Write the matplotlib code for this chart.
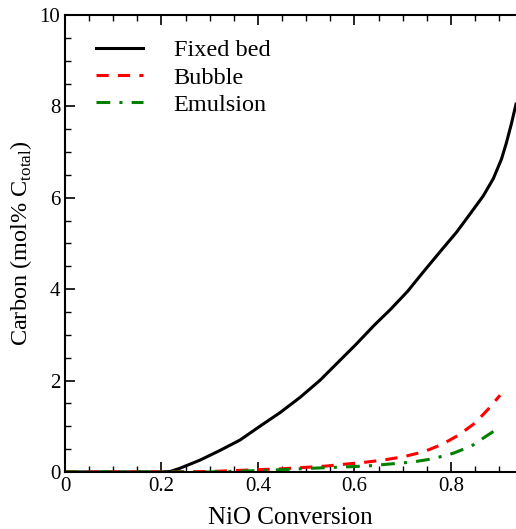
import numpy as np
import matplotlib.pyplot as plt
from matplotlib.ticker import MultipleLocator

plt.rcParams['font.family'] = ['Liberation Serif', 'DejaVu Serif']
plt.rcParams['mathtext.fontset'] = 'custom'
plt.rcParams['mathtext.rm'] = 'Liberation Serif'

# fixed bed
x_fixed = [0.0, 0.1, 0.2, 0.218, 0.238, 0.28, 0.321, 0.363, 0.404, 0.446, 0.487,
           0.528, 0.566, 0.604, 0.64, 0.674, 0.71, 0.743, 0.78, 0.812, 0.84,
           0.867, 0.888, 0.905, 0.915, 0.925, 0.935]
y_fixed = [0.0, 0.0, 0.0, 0.01, 0.08, 0.26, 0.47, 0.70, 1.0, 1.30, 1.63,
           2.0, 2.4, 2.8, 3.2, 3.55, 3.95, 4.38, 4.85, 5.25, 5.65,
           6.04, 6.42, 6.85, 7.2, 7.6, 8.05]
# bubble
x_bub = [0.0, 0.2, 0.3, 0.35, 0.4, 0.45, 0.497, 0.542, 0.58, 0.62, 0.659, 0.70,
         0.743, 0.781, 0.815, 0.85, 0.877, 0.902]
y_bub = [0.0, 0.0, 0.01, 0.03, 0.05, 0.07, 0.10, 0.13, 0.17, 0.21, 0.26, 0.33,
         0.44, 0.60, 0.80, 1.07, 1.37, 1.68]
# emulsion
x_emu = [0.0, 0.2, 0.3, 0.4, 0.45, 0.508, 0.556, 0.625, 0.68, 0.722, 0.763,
         0.805, 0.843, 0.877, 0.89]
y_emu = [0.0, 0.0, 0.0, 0.03, 0.05, 0.08, 0.10, 0.13, 0.18, 0.22, 0.29,
         0.41, 0.57, 0.81, 0.90]

fig = plt.figure(figsize=(5.16, 5.29), dpi=100)
ax = fig.add_axes([0.126, 0.1078, 0.874, 0.8638])

ax.plot(x_fixed, y_fixed, color='black', lw=2.2, label='Fixed bed')
ax.plot(x_bub, y_bub, color='red', lw=2.2, ls=(0, (4, 3)), label='Bubble')
ax.plot(x_emu, y_emu, color='green', lw=2.2, ls=(0, (4.5, 3, 1, 3)), label='Emulsion')

ax.set_xlim(0, 0.935)
ax.set_ylim(0, 10)
ax.xaxis.set_major_locator(MultipleLocator(0.2))
ax.xaxis.set_minor_locator(MultipleLocator(0.05))
ax.yaxis.set_major_locator(MultipleLocator(2))
ax.yaxis.set_minor_locator(MultipleLocator(0.5))
ax.tick_params(which='both', direction='in', top=True, right=False, labelsize=15)
ax.tick_params(which='major', length=7, width=1.2)
ax.tick_params(which='minor', length=4, width=1)
ax.xaxis.set_major_formatter(plt.FuncFormatter(lambda v, p: '0' if v == 0 else f'{v:.1f}'))
for s in ['left', 'bottom', 'top']:
    ax.spines[s].set_linewidth(1.5)
ax.spines['right'].set_visible(False)

ax.set_xlabel('NiO Conversion', fontsize=18, labelpad=8)
ax.set_ylabel('Carbon (mol% C$_{\\mathrm{total}}$)', fontsize=17.5)

ax.legend(loc='upper left', frameon=False, fontsize=17.5, handlelength=1.95,
          handletextpad=1.25, labelspacing=0.22, bbox_to_anchor=(0.02, 0.995))

plt.savefig('out.png', dpi=100)
